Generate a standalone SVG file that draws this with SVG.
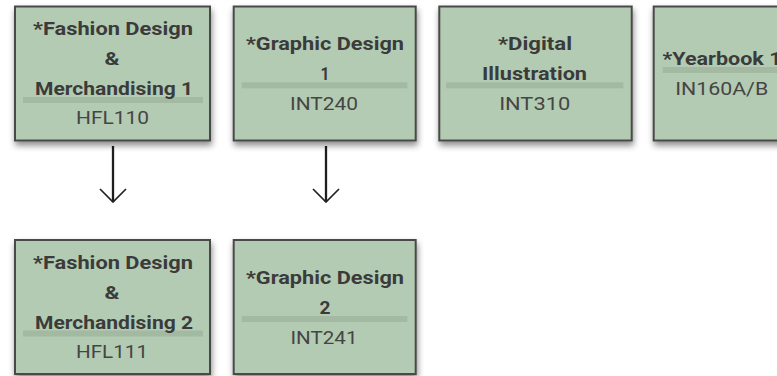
<svg xmlns="http://www.w3.org/2000/svg" width="777" height="376" viewBox="0 0 777 376">
<defs>
<filter id="sh" x="-10%" y="-10%" width="125%" height="130%">
<feDropShadow dx="1" dy="4" stdDeviation="3" flood-color="#000" flood-opacity="0.45"/>
</filter>
<marker id="arr" viewBox="-14 -14 15 28" refX="0" refY="0" markerWidth="15" markerHeight="28" markerUnits="userSpaceOnUse" orient="auto">
<path d="M-13,-13 L0,0 L-13,13" fill="none" stroke="#222" stroke-width="1.7"/>
</marker>
<style>
.box{fill:#b3cbb2;stroke:#4a4a4a;stroke-width:2;filter:url(#sh)}
.band{fill:#a3b9a1}
.t{font-family:Roboto,"Liberation Sans",sans-serif;font-weight:bold;font-size:18px;fill:#3b3b3b;text-anchor:middle}
.c{font-family:Roboto,"Liberation Sans",sans-serif;font-size:18px;fill:#454545;text-anchor:middle}
.conn{stroke:#1e1e1e;stroke-width:2.3;fill:none}
</style>
</defs>
<rect width="777" height="376" fill="#fff"/>

<g id="conns">
<line class="conn" x1="113" y1="146" x2="113" y2="202" marker-end="url(#arr)"/>
<line class="conn" x1="326" y1="146" x2="326" y2="202" marker-end="url(#arr)"/>
</g>

<g id="hfl110">
<rect class="box" x="15" y="6.5" width="195" height="134"/>
<rect class="band" x="23" y="97" width="180" height="6"/>
<text class="t" x="113" y="35" textLength="160" lengthAdjust="spacingAndGlyphs">*Fashion Design</text>
<text class="t" x="112" y="65" textLength="15" lengthAdjust="spacingAndGlyphs">&amp;</text>
<text class="t" x="114" y="95" textLength="158" lengthAdjust="spacingAndGlyphs">Merchandising 1</text>
<text class="c" x="112.5" y="124" textLength="73" lengthAdjust="spacingAndGlyphs">HFL110</text>
</g>

<g id="int240">
<rect class="box" x="233.7" y="6.5" width="182" height="134"/>
<rect class="band" x="241.7" y="82.3" width="165.6" height="6"/>
<text class="t" x="325" y="50" textLength="158" lengthAdjust="spacingAndGlyphs">*Graphic Design</text>
<text class="t" x="325" y="80" textLength="9" lengthAdjust="spacingAndGlyphs">1</text>
<text class="c" x="324" y="110" textLength="68" lengthAdjust="spacingAndGlyphs">INT240</text>
</g>

<g id="int310">
<rect class="box" x="439.3" y="6.5" width="192.4" height="134"/>
<rect class="band" x="446" y="82.3" width="177.3" height="6"/>
<text class="t" x="535" y="50" textLength="74" lengthAdjust="spacingAndGlyphs">*Digital</text>
<text class="t" x="534.5" y="80" textLength="105" lengthAdjust="spacingAndGlyphs">Illustration</text>
<text class="c" x="534.7" y="110" textLength="71" lengthAdjust="spacingAndGlyphs">INT310</text>
</g>

<g id="in160">
<rect class="box" x="653.7" y="6.5" width="140" height="134"/>
<rect class="band" x="662.7" y="67" width="120" height="6"/>
<text class="t" x="722" y="65" textLength="119" lengthAdjust="spacingAndGlyphs">*Yearbook 1</text>
<text class="c" x="721.7" y="95" textLength="93" lengthAdjust="spacingAndGlyphs">IN160A/B</text>
</g>

<g id="hfl111">
<rect class="box" x="15" y="240" width="195" height="134"/>
<rect class="band" x="23" y="330.5" width="180" height="6"/>
<text class="t" x="113" y="268.5" textLength="160" lengthAdjust="spacingAndGlyphs">*Fashion Design</text>
<text class="t" x="112" y="299" textLength="15" lengthAdjust="spacingAndGlyphs">&amp;</text>
<text class="t" x="114" y="329" textLength="158" lengthAdjust="spacingAndGlyphs">Merchandising 2</text>
<text class="c" x="112" y="357.5" textLength="72" lengthAdjust="spacingAndGlyphs">HFL111</text>
</g>

<g id="int241">
<rect class="box" x="233.7" y="240" width="182" height="134"/>
<rect class="band" x="241.7" y="316" width="165.6" height="6"/>
<text class="t" x="325" y="283.5" textLength="158" lengthAdjust="spacingAndGlyphs">*Graphic Design</text>
<text class="t" x="325" y="313.5" textLength="11" lengthAdjust="spacingAndGlyphs">2</text>
<text class="c" x="324" y="343.5" textLength="67" lengthAdjust="spacingAndGlyphs">INT241</text>
</g>
</svg>
